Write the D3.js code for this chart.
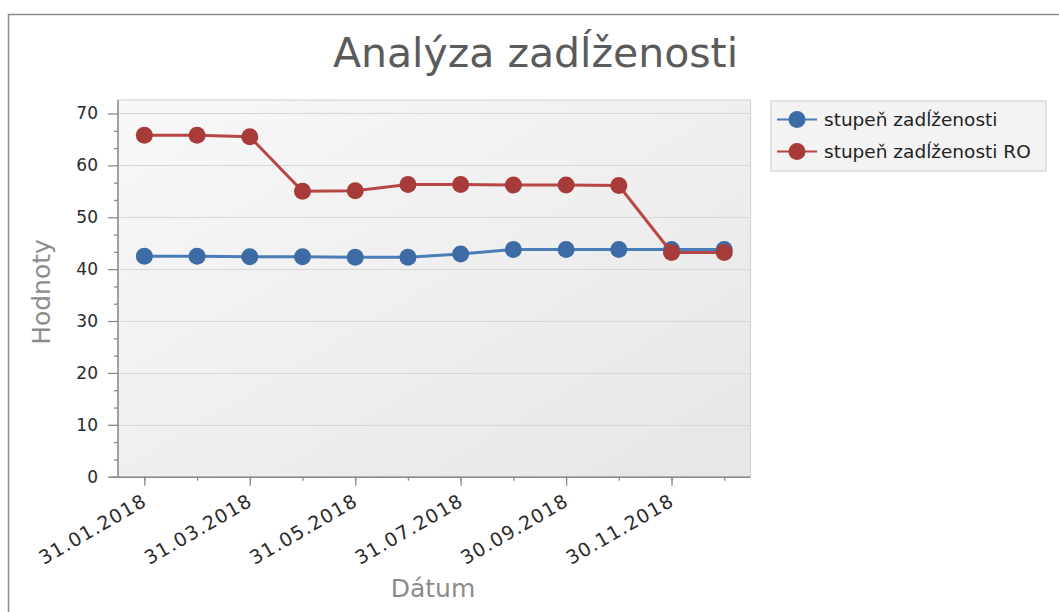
<!DOCTYPE html>
<html><head><meta charset="utf-8">
<script src="https://cdn.jsdelivr.net/npm/d3@7"></script>
<style>
html,body{margin:0;padding:0;background:#fff;}
svg{display:block;font-family:"DejaVu Sans",Verdana,sans-serif;}
</style></head>
<body><svg id="c" width="1059" height="612"></svg>
<script>
const dates = ["31.01.2018","28.02.2018","31.03.2018","30.04.2018","31.05.2018","30.06.2018","31.07.2018","31.08.2018","30.09.2018","31.10.2018","30.11.2018","31.12.2018"];
const labeledDates = ["31.01.2018","31.03.2018","31.05.2018","31.07.2018","30.09.2018","30.11.2018"];
const seriesNames = ["stupeň zadĺženosti","stupeň zadĺženosti RO"];
const stupen = [42.5,42.5,42.4,42.4,42.3,42.3,42.9,43.8,43.8,43.8,43.8,43.8];
const stupenRO = [65.8,65.8,65.5,55.0,55.1,56.3,56.3,56.2,56.2,56.1,43.2,43.2];
const yTicks = [0,10,20,30,40,50,60,70];
const yMax = 72.6;
const title = "Analýza zadĺženosti";
const xTitle = "Dátum";
const yTitle = "Hodnoty";

const svg = d3.select("#c");
const L = 118, R = 750.6, T = 100, B = 476.7;
const x = d3.scalePoint().domain(dates).range([L, R]).padding(0.5);
const y = d3.scaleLinear().domain([0, yMax]).range([B, T]);

const defs = svg.append("defs");
const g1 = defs.append("linearGradient").attr("id","bg").attr("x1","0").attr("y1","0").attr("x2","1").attr("y2","1");
g1.append("stop").attr("offset","0").attr("stop-color","#f8f8f8");
g1.append("stop").attr("offset","1").attr("stop-color","#e6e6e6");

// outer border
svg.append("path").attr("d","M8.5,612 L8.5,14.5 L1059,14.5").attr("fill","none").attr("stroke","#8a8a8a").attr("stroke-width",1.5);

// title
svg.append("text").attr("x",535.5).attr("y",67).attr("text-anchor","middle")
  .attr("font-size",41).attr("fill","#5b5b5b").text(title);

// plot area
svg.append("rect").attr("x",L).attr("y",T).attr("width",R-L).attr("height",B-T)
  .attr("fill","url(#bg)").attr("stroke","#cfcfcf");

// grid
svg.append("g").selectAll("line").data(yTicks.filter(d=>d>0)).join("line")
  .attr("x1",L).attr("x2",R).attr("y1",d=>Math.round(y(d))+0.5).attr("y2",d=>Math.round(y(d))+0.5)
  .attr("stroke","#d8d8d8").attr("stroke-width",1.2);

// y axis
const minorY = d3.range(0,21).map(i=>i*10/3).filter((v,i)=>i%3!==0);
const yMinor = svg.append("g").attr("transform",`translate(${L},0)`)
  .call(d3.axisLeft(y).tickValues(minorY).tickSize(4).tickFormat(""));
const yAx = svg.append("g").attr("transform",`translate(${L},0)`)
  .call(d3.axisLeft(y).tickValues(yTicks).tickSize(10).tickPadding(10));
[yMinor,yAx].forEach(a=>{a.select(".domain").remove(); a.selectAll("line").attr("stroke","#8a8a8a").attr("stroke-width",1.3);});
yAx.selectAll("text").attr("font-size",17).attr("fill","#2a2a2a").attr("font-family","DejaVu Sans, sans-serif");
svg.append("line").attr("x1",L).attr("x2",L).attr("y1",T).attr("y2",B+1).attr("stroke","#8a8a8a").attr("stroke-width",1.5);

// x axis
const xMinor = svg.append("g").attr("transform",`translate(0,${B})`)
  .call(d3.axisBottom(x).tickValues(dates).tickSize(4).tickFormat(""));
const xAx = svg.append("g").attr("transform",`translate(0,${B})`)
  .call(d3.axisBottom(x).tickValues(labeledDates).tickSize(9).tickFormat(""));
[xMinor,xAx].forEach(a=>{a.select(".domain").remove(); a.selectAll("line").attr("stroke","#8a8a8a").attr("stroke-width",1.3);});
svg.append("line").attr("x1",L-8).attr("x2",R).attr("y1",B+0.5).attr("y2",B+0.5).attr("stroke","#8a8a8a").attr("stroke-width",1.5);
svg.append("g").selectAll("text").data(labeledDates).join("text")
  .attr("transform",d=>`translate(${x(d)+4},${B+28}) rotate(-30)`)
  .attr("text-anchor","end").attr("font-size",19).attr("letter-spacing",1.2).attr("fill","#2a2a2a").text(d=>d);

// axis titles
svg.append("text").attr("x",433).attr("y",597).attr("text-anchor","middle").attr("font-size",25).attr("fill","#8c8c8c").text(xTitle);
svg.append("text").attr("transform",`translate(50,292) rotate(-90)`).attr("text-anchor","middle").attr("font-size",25).attr("fill","#8c8c8c").text(yTitle);

// series
const series = [
  {name:seriesNames[0], values:stupen, line:"#4a7cb8", mark:"#3d6ba6"},
  {name:seriesNames[1], values:stupenRO, line:"#b84644", mark:"#a63b3a"}
];
const line = d3.line().x((d,i)=>x(dates[i])).y(d=>y(d));
series.forEach(s=>{
  svg.append("path").attr("d",line(s.values)).attr("fill","none").attr("stroke",s.line).attr("stroke-width",3);
  svg.append("g").selectAll("circle").data(s.values).join("circle")
    .attr("cx",(d,i)=>x(dates[i])).attr("cy",d=>y(d)).attr("r",8.5).attr("fill",s.mark);
});

// legend
const lg = svg.append("g");
lg.append("rect").attr("x",771).attr("y",101).attr("width",275).attr("height",70).attr("fill","#f3f3f3").attr("stroke","#cccccc");
series.forEach((s,i)=>{
  const cy = 119.5 + i*32;
  lg.append("line").attr("x1",777).attr("x2",817).attr("y1",cy).attr("y2",cy).attr("stroke",s.line).attr("stroke-width",2);
  lg.append("circle").attr("cx",797).attr("cy",cy).attr("r",8.5).attr("fill",s.mark);
  lg.append("text").attr("x",824).attr("y",cy+6).attr("font-size",18.5).attr("fill","#222").text(s.name);
});
</script></body></html>
